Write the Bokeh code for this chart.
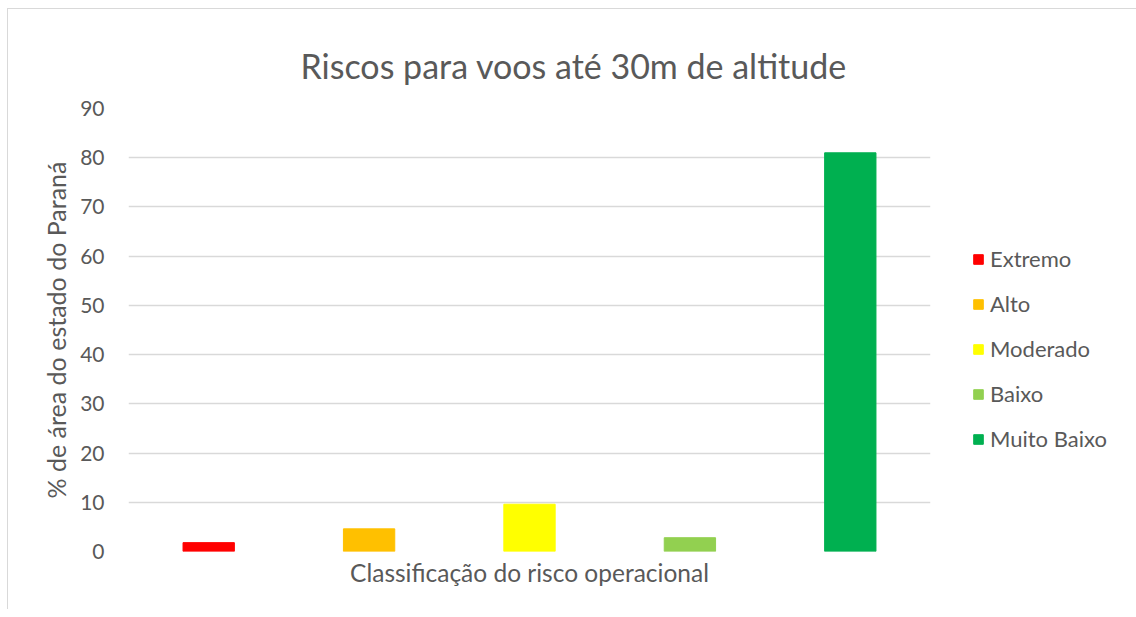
from bokeh.plotting import figure
from bokeh.models import ColumnDataSource, Range1d, FactorRange, FixedTicker, Title
from bokeh.embed import file_html
from bokeh.resources import INLINE

categories = ["Extremo", "Alto", "Moderado", "Baixo", "Muito Baixo"]
values = [1.8, 4.6, 9.6, 2.8, 81.0]
colors = ["#FF0000", "#FFC000", "#FFFF00", "#92D050", "#00B050"]
y_ticks = [0, 10, 20, 30, 40, 50, 60, 70, 80, 90]

TEXT = "#595959"
GRID = "#d9d9d9"
FONT = "Lato"

source = ColumnDataSource(dict(cat=categories, val=values, color=colors))

p = figure(
    frame_width=802, frame_height=443,
    x_range=FactorRange(factors=categories, range_padding=0),
    y_range=Range1d(0, 90),
    output_backend="svg", toolbar_location=None,
    min_border_left=120, min_border_right=200, min_border_top=99, min_border_bottom=58,
)
p.styles = {"border-left": "1px solid #d9d9d9", "border-top": "1px solid #d9d9d9",
            "margin-left": "7px", "margin-top": "8px"}

p.vbar(x="cat", top="val", width=0.32, color="color", source=source, legend_field="cat")

p.title = Title(text="Riscos para voos até 30m de altitude", align="left", offset=172,
                vertical_align="top",
                text_font=FONT, text_font_size="34px", text_font_style="normal",
                text_color=TEXT, standoff=42)

p.outline_line_color = None
p.xgrid.grid_line_color = None
p.ygrid.grid_line_color = GRID
p.ygrid.grid_line_width = 1.3
p.yaxis.ticker = FixedTicker(ticks=y_ticks)

p.yaxis.axis_line_color = None
p.yaxis.major_tick_line_color = None
p.yaxis.minor_tick_line_color = None
p.yaxis.major_label_text_font = FONT
p.yaxis.major_label_text_font_size = "21px"
p.yaxis.major_label_text_color = TEXT
p.yaxis.major_label_standoff = 18
p.yaxis.axis_label = "% de área do estado do Paraná"
p.yaxis.axis_label_text_font = FONT
p.yaxis.axis_label_text_font_size = "25px"
p.yaxis.axis_label_text_font_style = "normal"
p.yaxis.axis_label_text_color = TEXT
p.yaxis.axis_label_standoff = 6

p.xaxis.visible = False
p.add_layout(Title(text="Classificação do risco operacional", align="center",
                   text_font=FONT, text_font_size="24.5px", text_font_style="normal",
                   text_color=TEXT, standoff=9), "below")

lg = p.legend[0]
p.center.remove(lg)
p.add_layout(lg, "right")
lg.location = (42, 99)
lg.padding = 0
lg.margin = 0
lg.border_line_color = None
lg.background_fill_alpha = 0
lg.glyph_width = 12
lg.glyph_height = 12
lg.label_standoff = 6
lg.spacing = 18
lg.label_text_font = FONT
lg.label_text_font_size = "22px"
lg.label_text_color = TEXT

open("out.html", "w").write(file_html(p, INLINE))
